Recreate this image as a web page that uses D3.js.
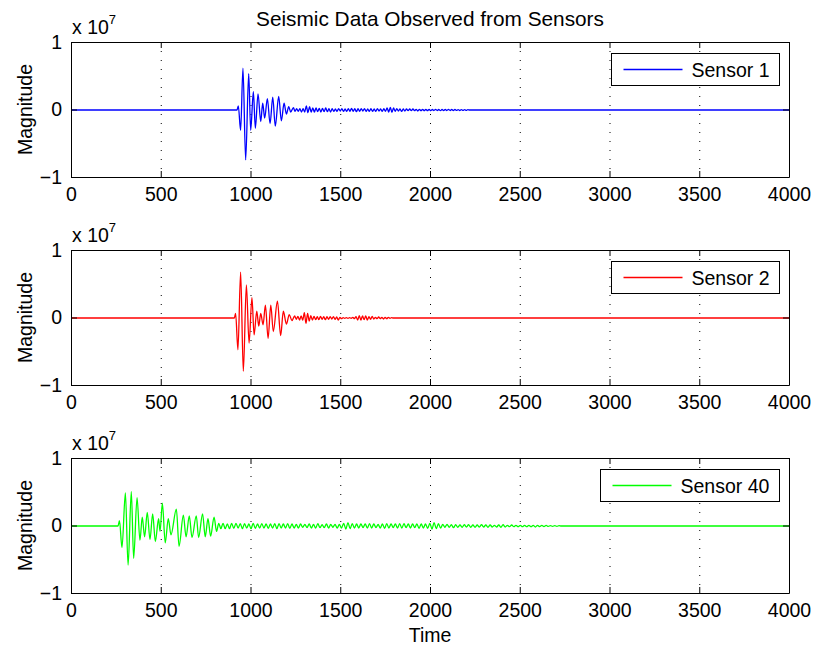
<!DOCTYPE html>
<html>
<head>
<meta charset="utf-8">
<script src="https://cdn.jsdelivr.net/npm/d3@7"></script>
<style>
body { margin: 0; background: #fff; }
text { font-family: "Liberation Sans", Arial, Helvetica, sans-serif; }
</style>
</head>
<body>
<svg id="chart" width="814" height="645"></svg>
<script>
// tick labels
var xTicks = [0, 500, 1000, 1500, 2000, 2500, 3000, 3500, 4000];
var yTicks = [-1, 0, 1];
var sensorNames = ["Sensor 1", "Sensor 2", "Sensor 40"];
var sensorColors = ["#0000ff", "#ff0000", "#00ff00"];

// values in units of 1e7, burst = peaks/troughs
var sensor1Time = [0, 925, 932, 945, 958, 973, 990, 1001, 1016, 1027, 1042, 1057, 1068, 1079, 1094, 1109, 1124, 1138, 1157, 1172, 1187, 1200, 1213, 1224, 1239];
var sensor1Value = [0, 0, 0.06, -0.30, 0.62, -0.74, 0.54, -0.30, 0.27, -0.27, 0.24, -0.17, 0.10, -0.12, 0.17, -0.20, 0.19, -0.24, 0.20, -0.16, 0.10, -0.06, 0.05, -0.03, 0.035];
var sensor1TailStart = 1248;
var sensor1Tail = [-0.02, 0.02, -0.02, 0.02, -0.03, 0.02, -0.03, 0.06, -0.04, 0.05, -0.03, 0.03, -0.03, 0.03, -0.025, 0.025,
  -0.03, 0.025, -0.025, 0.03, -0.025, 0.02, -0.03, 0.02, -0.02, 0.015, -0.02, 0.02, -0.015, 0.02, -0.02, 0.015,
  -0.02, 0.02, -0.02, 0.025, -0.02, 0.02, -0.025, 0.02, -0.02, 0.02, -0.015, 0.02, -0.02, 0.015, -0.02, 0.02,
  -0.02, 0.015, -0.02, 0.02, -0.015, 0.015, -0.02, 0.02, -0.02, 0.03, -0.03, 0.04, -0.035, 0.03, -0.02, 0.02,
  -0.015, 0.015, -0.02, 0.015, -0.015, 0.015, -0.01, 0.015, -0.01, 0.015, -0.01, 0.01, -0.015, 0.01, -0.01, 0.01,
  -0.01, 0.01, -0.01, 0.01, -0.01, 0.008, -0.008, 0.01, -0.008, 0.008, -0.01, 0.008, -0.008, 0.008, -0.008, 0.01,
  -0.008, 0.008, -0.008, 0.008, -0.006, 0.006, -0.008, 0.006, -0.006, 0.006, -0.006, 0.006];

var sensor2Time = [0, 910, 917, 930, 945, 960, 977, 992, 1008, 1020, 1035, 1046, 1057, 1070, 1083, 1098, 1113, 1127, 1150, 1168, 1183, 1200, 1216, 1231, 1246];
var sensor2Value = [0, 0, 0.07, -0.47, 0.68, -0.79, 0.49, -0.37, 0.30, -0.25, 0.10, -0.12, 0.07, -0.10, 0.19, -0.30, 0.19, -0.20, 0.25, -0.26, 0.10, -0.09, 0.05, -0.04, 0.03];
var sensor2TailStart = 1255;
var sensor2Tail = [-0.02, 0.025, -0.03, 0.03, -0.03, 0.08, -0.08, 0.07, -0.045, 0.035, -0.03, 0.025, -0.025, 0.02, -0.025, 0.025,
  -0.02, 0.02, -0.025, 0.02, -0.02, 0.02, -0.015, 0.02, -0.02, 0.015, -0.03, 0.01, -0.01, 0.005, -0.005, 0.005,
  -0.005, 0.005, -0.005, 0.01, -0.01, 0.02, -0.03, 0.035, -0.03, 0.03, -0.025, 0.03, -0.03, 0.02, -0.02, 0.025,
  -0.015, 0.01, -0.01, 0.015, -0.01, 0.01, -0.015, 0.01, -0.01, 0.01, -0.005, 0.005];

var sensor40Time = [0, 262, 270, 284, 303, 318, 336, 349, 368, 384, 397, 410, 425, 440, 455, 470, 488, 496, 509, 525, 542, 557, 587, 602, 626, 641, 659, 674, 698, 711, 733, 748, 763, 778, 797, 811];
var sensor40Value = [0, 0, 0.08, -0.32, 0.49, -0.58, 0.51, -0.48, 0.42, -0.21, 0.13, -0.16, 0.20, -0.20, 0.18, -0.23, 0.11, -0.08, 0.34, -0.25, 0.11, -0.13, 0.25, -0.30, 0.16, -0.16, 0.15, -0.17, 0.15, -0.17, 0.18, -0.16, 0.11, -0.15, 0.13, -0.08];
var sensor40TailStart = 823;
var sensor40Tail = [0.04, -0.04, 0.04, -0.04, 0.03, -0.04, 0.04, -0.035, 0.04, -0.03, 0.035, -0.04, 0.035, -0.03, 0.03, -0.04,
  0.04, -0.035, 0.03, -0.03, 0.035, -0.03, 0.03, -0.035, 0.03, -0.03, 0.035, -0.04, 0.035, -0.03, 0.03, -0.03,
  0.035, -0.035, 0.03, -0.03, 0.025, -0.03, 0.03, -0.02, 0.025, -0.025, 0.03, -0.03, 0.025, -0.03, 0.035, -0.025,
  0.02, -0.025, 0.03, -0.03, 0.025, -0.02, 0.025, -0.03, 0.025, -0.03, 0.04, -0.045, 0.05, -0.04, 0.035, -0.03,
  0.03, -0.03, 0.03, -0.025, 0.03, -0.03, 0.035, -0.03, 0.03, -0.025, 0.025, -0.03, 0.03, -0.035, 0.035, -0.03,
  0.03, -0.025, 0.03, -0.03, 0.035, -0.03, 0.035, -0.025, 0.03, -0.03, 0.03, -0.025, 0.03, -0.035, 0.03, -0.03,
  0.03, -0.035, 0.04, -0.045, 0.05, -0.04, 0.035, -0.03, 0.025, -0.02, 0.025, -0.02, 0.02, -0.025, 0.02, -0.02,
  0.015, -0.02, 0.02, -0.015, 0.02, -0.02, 0.015, -0.02, 0.015, -0.015, 0.02, -0.015, 0.015, -0.02, 0.015, -0.015,
  0.01, -0.015, 0.015, -0.02, 0.02, -0.015, 0.01, -0.01, 0.015, -0.01, 0.01, -0.01, 0.01, -0.01, 0.01, -0.01,
  0.01, -0.01, 0.01, -0.015, 0.01, -0.01, 0.008, -0.008, 0.008, -0.006, 0.006, -0.006, 0.006, -0.005, 0.005];

var burstTimes = [sensor1Time, sensor2Time, sensor40Time];
var burstValues = [sensor1Value, sensor2Value, sensor40Value];
var tailStarts = [sensor1TailStart, sensor2TailStart, sensor40TailStart];
var tails = [sensor1Tail, sensor2Tail, sensor40Tail];
var tailSteps = [9, 9, 12];

var svg = d3.select("#chart");
var fontSize = 19.5;
var left = 71, right = 789, plotH = 135;
var tops = [42, 250, 458];

var x = d3.scaleLinear().domain([0, 4000]).range([left, right]);

svg.append("text")
  .attr("x", (left + right) / 2).attr("y", 26)
  .attr("text-anchor", "middle").attr("font-size", 20.8)
  .text("Seismic Data Observed from Sensors");

svg.append("text")
  .attr("x", (left + right) / 2).attr("y", 642)
  .attr("text-anchor", "middle").attr("font-size", fontSize)
  .text("Time");

function buildPoints(i) {
  var pts = burstTimes[i].map(function(t, j) { return [t, burstValues[i][j]]; });
  var step = tailSteps[i];
  tails[i].forEach(function(v, k) { pts.push([tailStarts[i] + k * step, v]); });
  pts.push([tailStarts[i] + tails[i].length * step, 0]);
  pts.push([4000, 0]);
  return pts;
}

sensorNames.forEach(function(name, i) {
  var top = tops[i];
  // half pixel shift so the zero line sits like the original
  var y = d3.scaleLinear().domain([-1, 1]).range([top + plotH + 0.5, top + 0.5]);
  var g = svg.append("g");

  g.append("clipPath").attr("id", "clip" + i)
    .append("rect").attr("x", left).attr("y", top).attr("width", right - left).attr("height", plotH);

  // dotted grid
  g.selectAll(".grid")
    .data(xTicks.slice(1, -1))
    .enter().append("line")
    .attr("x1", function(d) { return x(d) + 0.5; }).attr("x2", function(d) { return x(d) + 0.5; })
    .attr("y1", top).attr("y2", top + plotH)
    .attr("stroke", "#000").attr("stroke-width", 1)
    .attr("stroke-dasharray", "1,8");

  var line = d3.line()
    .x(function(d) { return x(d[0]); })
    .y(function(d) { return y(d[1]); })
    .curve(d3.curveMonotoneX);

  g.append("path")
    .datum(buildPoints(i))
    .attr("clip-path", "url(#clip" + i + ")")
    .attr("fill", "none")
    .attr("stroke", sensorColors[i])
    .attr("stroke-width", 1.3)
    .attr("d", line);

  // axes, ticks inward
  var axB = g.append("g").attr("transform", "translate(0," + (top + plotH) + ")")
    .call(d3.axisBottom(x).tickValues(xTicks).tickSize(-6).tickSizeOuter(0).tickPadding(10).tickFormat(d3.format("d")));
  g.append("g").attr("transform", "translate(0," + top + ")")
    .call(d3.axisTop(x).tickValues(xTicks).tickSize(-6).tickSizeOuter(0).tickFormat(""));
  var yAxisScale = y.copy().range([top + plotH, top]);
  var axL = g.append("g").attr("transform", "translate(" + left + ",0)")
    .call(d3.axisLeft(yAxisScale).tickValues(yTicks).tickSize(-6).tickSizeOuter(0).tickPadding(9).tickFormat(d3.format("d")));
  g.append("g").attr("transform", "translate(" + right + ",0)")
    .call(d3.axisRight(yAxisScale).tickValues(yTicks).tickSize(-6).tickSizeOuter(0).tickFormat(""));

  g.selectAll(".domain").attr("stroke", "#000").attr("stroke-width", 1);
  g.selectAll(".tick line").attr("stroke", "#000");
  [axB, axL].forEach(function(a) {
    a.attr("font-size", fontSize).attr("font-family", null);
    a.selectAll("text").attr("fill", "#000");
  });

  // exponent label
  var ex = g.append("text").attr("x", left + 1).attr("y", top - 8).attr("font-size", fontSize);
  ex.append("tspan").text("x 10");
  ex.append("tspan").attr("dy", -10).attr("font-size", 13).text("7");

  g.append("text")
    .attr("transform", "translate(32," + (top + plotH / 2) + ") rotate(-90)")
    .attr("text-anchor", "middle").attr("font-size", fontSize)
    .text("Magnitude");

  // legend
  var lg = g.append("g");
  var box = lg.append("rect").attr("fill", "#fff").attr("stroke", "#000").attr("stroke-width", 1);
  var label = lg.append("text").attr("font-size", fontSize).text(name);
  var tw = label.node().getComputedTextLength();
  var bw = Math.round(tw + 90), bx = right - 10 - bw + 0.5, by = top + 11.5, bh = 32;
  box.attr("x", bx).attr("y", by).attr("width", bw).attr("height", bh);
  lg.append("line")
    .attr("x1", bx + 12).attr("x2", bx + 71)
    .attr("y1", by + bh / 2).attr("y2", by + bh / 2)
    .attr("stroke", sensorColors[i]).attr("stroke-width", 1.3);
  label.attr("x", bx + 80).attr("y", by + bh / 2 + 7);
});
</script>
</body>
</html>
